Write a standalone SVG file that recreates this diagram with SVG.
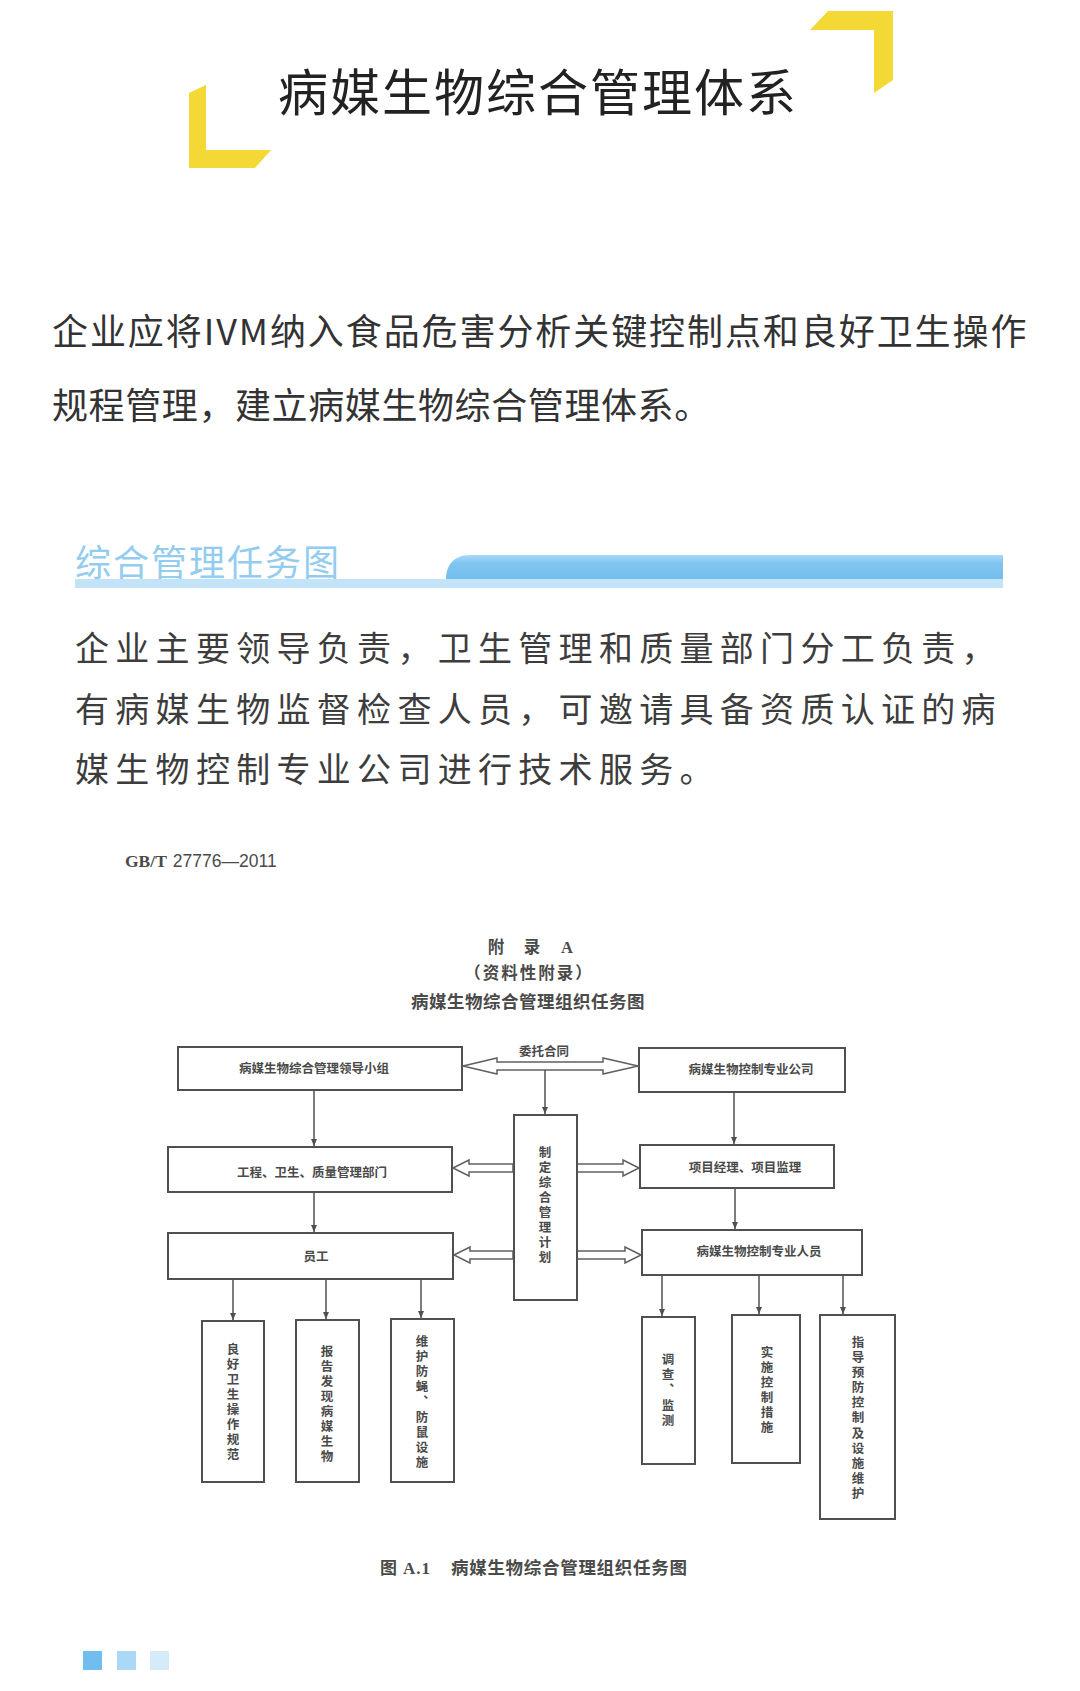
<svg xmlns="http://www.w3.org/2000/svg" width="1080" height="1691" viewBox="0 0 1080 1691">
<defs>
<style>
.cjk{font-family:"Noto Sans CJK SC","Noto Sans",sans-serif;}
.title{font-size:50px;fill:#222;letter-spacing:2px;}
.p1{font-size:36px;fill:#333;letter-spacing:0.6px;}
.sec{font-size:36px;fill:#93ccef;letter-spacing:2px;}
.p2{font-size:34px;fill:#3d3d3d;letter-spacing:6.3px;}
.doc{fill:#4a4a4a;font-weight:bold;}
.lbl{font-size:12.5px;fill:#4a4a4a;font-weight:bold;text-anchor:middle;font-family:"Noto Sans CJK SC","Noto Sans",sans-serif;}
.vt{writing-mode:vertical-rl;letter-spacing:2.6px;}
.box{fill:#fff;stroke:#505050;stroke-width:2;}
.ln{fill:none;stroke:#505050;stroke-width:1.5;marker-end:url(#ah);}
.hol{fill:#fff;stroke:#606060;stroke-width:1.5;stroke-linejoin:miter;}
.yel{fill:#f4d835;}
</style>
<marker id="ah" markerUnits="userSpaceOnUse" markerWidth="8" markerHeight="7" refX="7" refY="3" orient="auto">
<path d="M0,0 L7,3 L0,6 Z" fill="#505050"/>
</marker>
<linearGradient id="bar" x1="0" y1="0" x2="0" y2="1">
<stop offset="0" stop-color="#a8d9f7"/>
<stop offset="0.35" stop-color="#80c5f1"/>
<stop offset="1" stop-color="#74bdee"/>
</linearGradient>
</defs>
<rect width="1080" height="1691" fill="#fff"/>

<g id="header">
<polygon class="yel" points="828,11 893,11 893,80 874,93 874,30 810,30"/>
<polygon class="yel" points="189,93 206,85 206,150 271,150 255,168 189,168"/>
<text class="cjk title" x="538" y="111" text-anchor="middle">病媒生物综合管理体系</text>
</g>

<g id="intro">
<text class="cjk p1" x="52" y="345" textLength="975" lengthAdjust="spacing">企业应将IVM纳入食品危害分析关键控制点和良好卫生操作</text>
<text class="cjk p1" x="52" y="419">规程管理，建立病媒生物综合管理体系。</text>
</g>

<g id="section-title">
<path d="M446,579 C446,566 453,555 470,555 L1003,555 L1003,579 Z" fill="url(#bar)"/>
<rect x="75" y="579" width="928" height="9" fill="#c3e4f8"/>
<text class="cjk sec" x="75" y="576">综合管理任务图</text>
</g>

<g id="body">
<text class="cjk p2" x="75" y="661">企业主要领导负责，卫生管理和质量部门分工负责，</text>
<text class="cjk p2" x="75" y="722">有病媒生物监督检查人员，可邀请具备资质认证的病</text>
<text class="cjk p2" x="75" y="782">媒生物控制专业公司进行技术服务。</text>
</g>

<g id="doc-header">
<text x="125" y="867" font-size="17.5" class="doc"><tspan font-family="Liberation Serif,serif">GB/T</tspan><tspan font-family="Liberation Sans,sans-serif" font-weight="normal" dx="6">27776—2011</tspan></text>
<text class="cjk doc" y="953" font-size="16.5" text-anchor="middle"><tspan x="496">附</tspan><tspan x="532">录</tspan><tspan x="567" font-family="Liberation Serif,serif">A</tspan></text>
<text class="cjk doc" x="529" y="979" font-size="16.5" letter-spacing="2" text-anchor="middle">（资料性附录）</text>
<text class="cjk doc" x="528" y="1008" font-size="17.5" letter-spacing="0.5" text-anchor="middle">病媒生物综合管理组织任务图</text>
</g>

<g id="connectors">
<polygon class="hol" points="463,1066 497,1058 497,1062 603,1062 603,1058 638,1066 603,1074 603,1070 497,1070 497,1074"/>
<polygon class="hol" points="453,1168 469,1160 469,1164 513,1164 513,1172 469,1172 469,1176"/>
<polygon class="hol" points="639,1168 623,1160 623,1164 577,1164 577,1172 623,1172 623,1176"/>
<polygon class="hol" points="454,1255 470,1247 470,1251 513,1251 513,1259 470,1259 470,1263"/>
<polygon class="hol" points="641,1255 625,1247 625,1251 577,1251 577,1259 625,1259 625,1263"/>
<line class="ln" x1="545" y1="1070" x2="545" y2="1114"/>
<line class="ln" x1="314" y1="1091" x2="314" y2="1146"/>
<line class="ln" x1="314" y1="1193" x2="314" y2="1232"/>
<line class="ln" x1="734" y1="1093" x2="734" y2="1144"/>
<line class="ln" x1="735" y1="1189" x2="735" y2="1229"/>
<line class="ln" x1="233" y1="1280" x2="233" y2="1320"/>
<line class="ln" x1="326" y1="1280" x2="326" y2="1319"/>
<line class="ln" x1="421" y1="1280" x2="421" y2="1318"/>
<line class="ln" x1="662" y1="1276" x2="662" y2="1316"/>
<line class="ln" x1="759" y1="1276" x2="759" y2="1314"/>
<line class="ln" x1="843" y1="1276" x2="843" y2="1314"/>
<text class="lbl" x="544" y="1056">委托合同</text>
</g>

<g id="node-leader">
<rect class="box" x="178" y="1047" width="284" height="43"/>
<text class="lbl" x="314" y="1073">病媒生物综合管理领导小组</text>
</g>
<g id="node-dept">
<rect class="box" x="168" y="1147" width="284" height="45"/>
<text class="lbl" x="312" y="1177">工程、卫生、质量管理部门</text>
</g>
<g id="node-staff">
<rect class="box" x="168" y="1233" width="285" height="46"/>
<text class="lbl" x="316" y="1261">员工</text>
</g>
<g id="node-company">
<rect class="box" x="639" y="1048" width="206" height="44"/>
<text class="lbl" x="751" y="1074">病媒生物控制专业公司</text>
</g>
<g id="node-manager">
<rect class="box" x="640" y="1145" width="194" height="43"/>
<text class="lbl" x="745" y="1172">项目经理、项目监理</text>
</g>
<g id="node-pro">
<rect class="box" x="642" y="1230" width="220" height="45"/>
<text class="lbl" x="759" y="1256">病媒生物控制专业人员</text>
</g>
<g id="node-plan">
<rect class="box" x="514" y="1115" width="63" height="185"/>
<text class="lbl vt" x="545" y="1206">制定综合管理计划</text>
</g>
<g id="node-gmp">
<rect class="box" x="202" y="1321" width="62" height="161"/>
<text class="lbl vt" x="233" y="1403">良好卫生操作规范</text>
</g>
<g id="node-report">
<rect class="box" x="296" y="1320" width="63" height="162"/>
<text class="lbl vt" x="327" y="1405" letter-spacing="2.8">报告发现病媒生物</text>
</g>
<g id="node-maintain">
<rect class="box" x="391" y="1319" width="63" height="163"/>
<text class="lbl vt" x="422" y="1403" letter-spacing="2.9">维护防蝇、防鼠设施</text>
</g>
<g id="node-survey">
<rect class="box" x="642" y="1317" width="53" height="147"/>
<text class="lbl vt" x="668" y="1391">调查、监测</text>
</g>
<g id="node-implement">
<rect class="box" x="732" y="1315" width="68" height="148"/>
<text class="lbl vt" x="767" y="1391">实施控制措施</text>
</g>
<g id="node-guide">
<rect class="box" x="820" y="1315" width="75" height="204"/>
<text class="lbl vt" x="858" y="1419">指导预防控制及设施维护</text>
</g>

<g id="caption">
<text class="cjk doc" y="1574" font-size="17"><tspan x="380">图</tspan><tspan x="403" font-family="Liberation Serif,serif" letter-spacing="1">A.1</tspan><tspan x="451" font-size="17.5" letter-spacing="0.7">病媒生物综合管理组织任务图</tspan></text>
</g>

<g id="footer">
<rect x="83" y="1651" width="19" height="19" fill="#72bdf0"/>
<rect x="117" y="1651" width="19" height="19" fill="#abd8f6"/>
<rect x="150" y="1651" width="19" height="19" fill="#d6ebfa"/>
</g>
</svg>
